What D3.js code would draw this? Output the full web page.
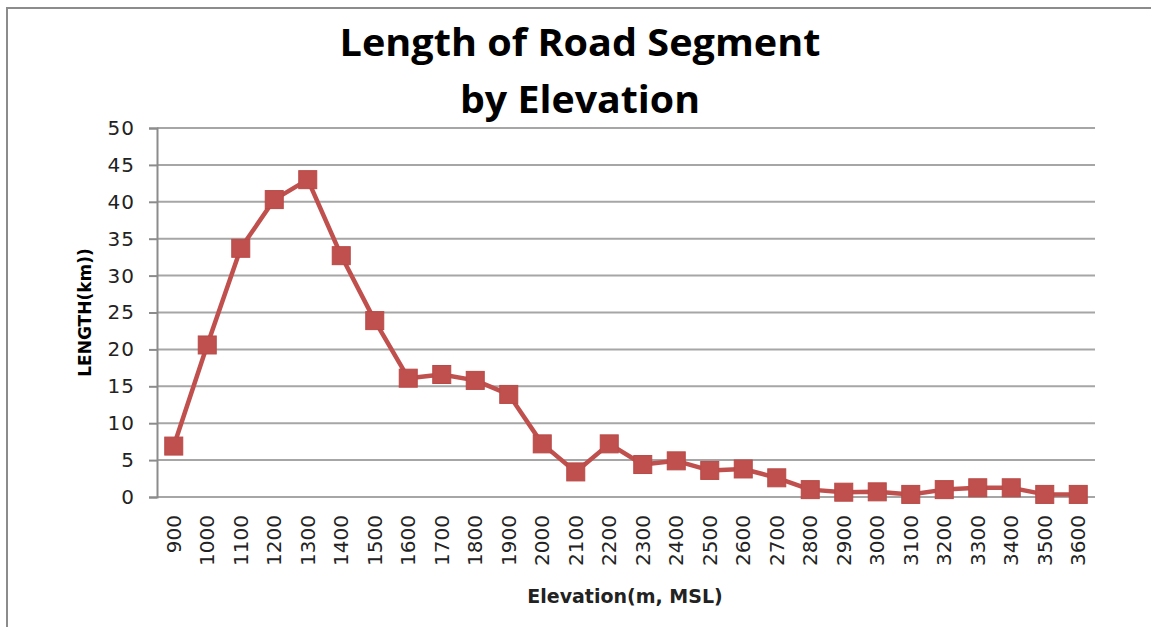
<!DOCTYPE html>
<html>
<head>
<meta charset="utf-8">
<script src="https://cdn.jsdelivr.net/npm/d3@7"></script>
<style>
  body { margin: 0; background: #fff; }
  svg { display: block; }
</style>
</head>
<body>
<div id="chart"></div>
<script>
// Chart data
const elevations = ["900","1000","1100","1200","1300","1400","1500","1600","1700","1800",
  "1900","2000","2100","2200","2300","2400","2500","2600","2700","2800",
  "2900","3000","3100","3200","3300","3400","3500","3600"];
const lengths = [6.9, 20.6, 33.7, 40.3, 43.0, 32.7, 23.9, 16.1, 16.6, 15.8,
  13.9, 7.2, 3.4, 7.2, 4.4, 4.9, 3.6, 3.8, 2.6, 1.0,
  0.65, 0.7, 0.35, 1.0, 1.25, 1.25, 0.35, 0.35];
const yTicks = [0, 5, 10, 15, 20, 25, 30, 35, 40, 45, 50];
const titleLines = ["Length of Road Segment", "by Elevation"];

const W = 1151, H = 627;
const margin = {top: 128, right: 56, bottom: 130, left: 157};
const width = W - margin.left - margin.right,
      height = H - margin.top - margin.bottom;

const svg = d3.select("#chart").append("svg")
    .attr("width", W)
    .attr("height", H);

// outer frame (left and top edges visible)
svg.append("path")
    .attr("d", `M7,${H} L7,8 L${W},8`)
    .attr("fill", "none")
    .attr("stroke", "#8c8c8c")
    .attr("stroke-width", 2);

// Title
const titleWidths = [481, 240];
svg.append("g").selectAll("text")
  .data(titleLines)
  .join("text")
    .attr("x", 580)
    .attr("y", (d, i) => 56 + i * 57)
    .attr("text-anchor", "middle")
    .attr("textLength", (d, i) => titleWidths[i])
    .attr("lengthAdjust", "spacingAndGlyphs")
    .style("font-family", "'Open Sans', Lato, sans-serif")
    .style("font-weight", 700)
    .style("font-size", "37px")
    .style("fill", "#000")
    .text(d => d);

const g = svg.append("g")
    .attr("transform", `translate(${margin.left},${margin.top})`);

const x = d3.scaleBand()
    .domain(elevations)
    .range([0, width]);

const y = d3.scaleLinear()
    .domain([0, 50])
    .range([height, 0]);

// gridlines
g.append("g").selectAll("line")
  .data(yTicks)
  .join("line")
    .attr("x1", 0)
    .attr("x2", width)
    .attr("y1", d => y(d))
    .attr("y2", d => y(d))
    .attr("stroke", "#a6a6a6")
    .attr("stroke-width", 2);

// Y axis
const yAxis = g.append("g")
    .call(d3.axisLeft(y).tickValues(yTicks).tickSize(8).tickPadding(14));
yAxis.select(".domain").attr("stroke", "#8c8c8c").attr("stroke-width", 2);
yAxis.selectAll(".tick line").attr("stroke", "#8c8c8c").attr("stroke-width", 2);
yAxis.selectAll("text")
    .style("font-family", "'DejaVu Sans', Verdana, sans-serif")
    .style("font-size", "20px")
    .style("letter-spacing", "1px")
    .style("fill", "#222");

// X axis (category labels rotated)
const xAxis = g.append("g")
    .attr("transform", `translate(0,${height})`)
    .call(d3.axisBottom(x).tickSize(0));
xAxis.select(".domain").remove();
xAxis.selectAll("text")
    .attr("transform", "rotate(-90)")
    .attr("x", -18)
    .attr("y", 0)
    .attr("dy", "0.36em")
    .attr("text-anchor", "end")
    .style("font-family", "'DejaVu Sans', Verdana, sans-serif")
    .style("font-size", "20px")
    .style("fill", "#222");

// Axis titles
svg.append("text")
    .attr("x", 625)
    .attr("y", 603)
    .attr("text-anchor", "middle")
    .style("font-family", "'DejaVu Sans', Verdana, sans-serif")
    .style("font-weight", 700)
    .style("font-size", "19px")
    .style("fill", "#222")
    .text("Elevation(m, MSL)");

svg.append("text")
    .attr("transform", `translate(91,${margin.top + height / 2}) rotate(-90)`)
    .attr("text-anchor", "middle")
    .style("font-family", "'DejaVu Sans', Verdana, sans-serif")
    .style("font-weight", 700)
    .style("font-size", "17px")
    .style("fill", "#000")
    .text("LENGTH(km))");

// Line
const line = d3.line()
    .x((d, i) => x(elevations[i]) + x.bandwidth() / 2)
    .y(d => y(d));

g.append("path")
    .datum(lengths)
    .attr("fill", "none")
    .attr("stroke", "#c0504d")
    .attr("stroke-width", 4.5)
    .attr("stroke-linejoin", "round")
    .attr("d", line);

// square markers
const ms = 18;
g.append("g").selectAll("rect")
  .data(lengths)
  .join("rect")
    .attr("x", (d, i) => x(elevations[i]) + x.bandwidth() / 2 - ms / 2)
    .attr("y", d => y(d) - ms / 2)
    .attr("width", ms)
    .attr("height", ms)
    .attr("fill", "#c0504d")
    .attr("stroke", "#b94a47")
    .attr("stroke-width", 1);
</script>
</body>
</html>
